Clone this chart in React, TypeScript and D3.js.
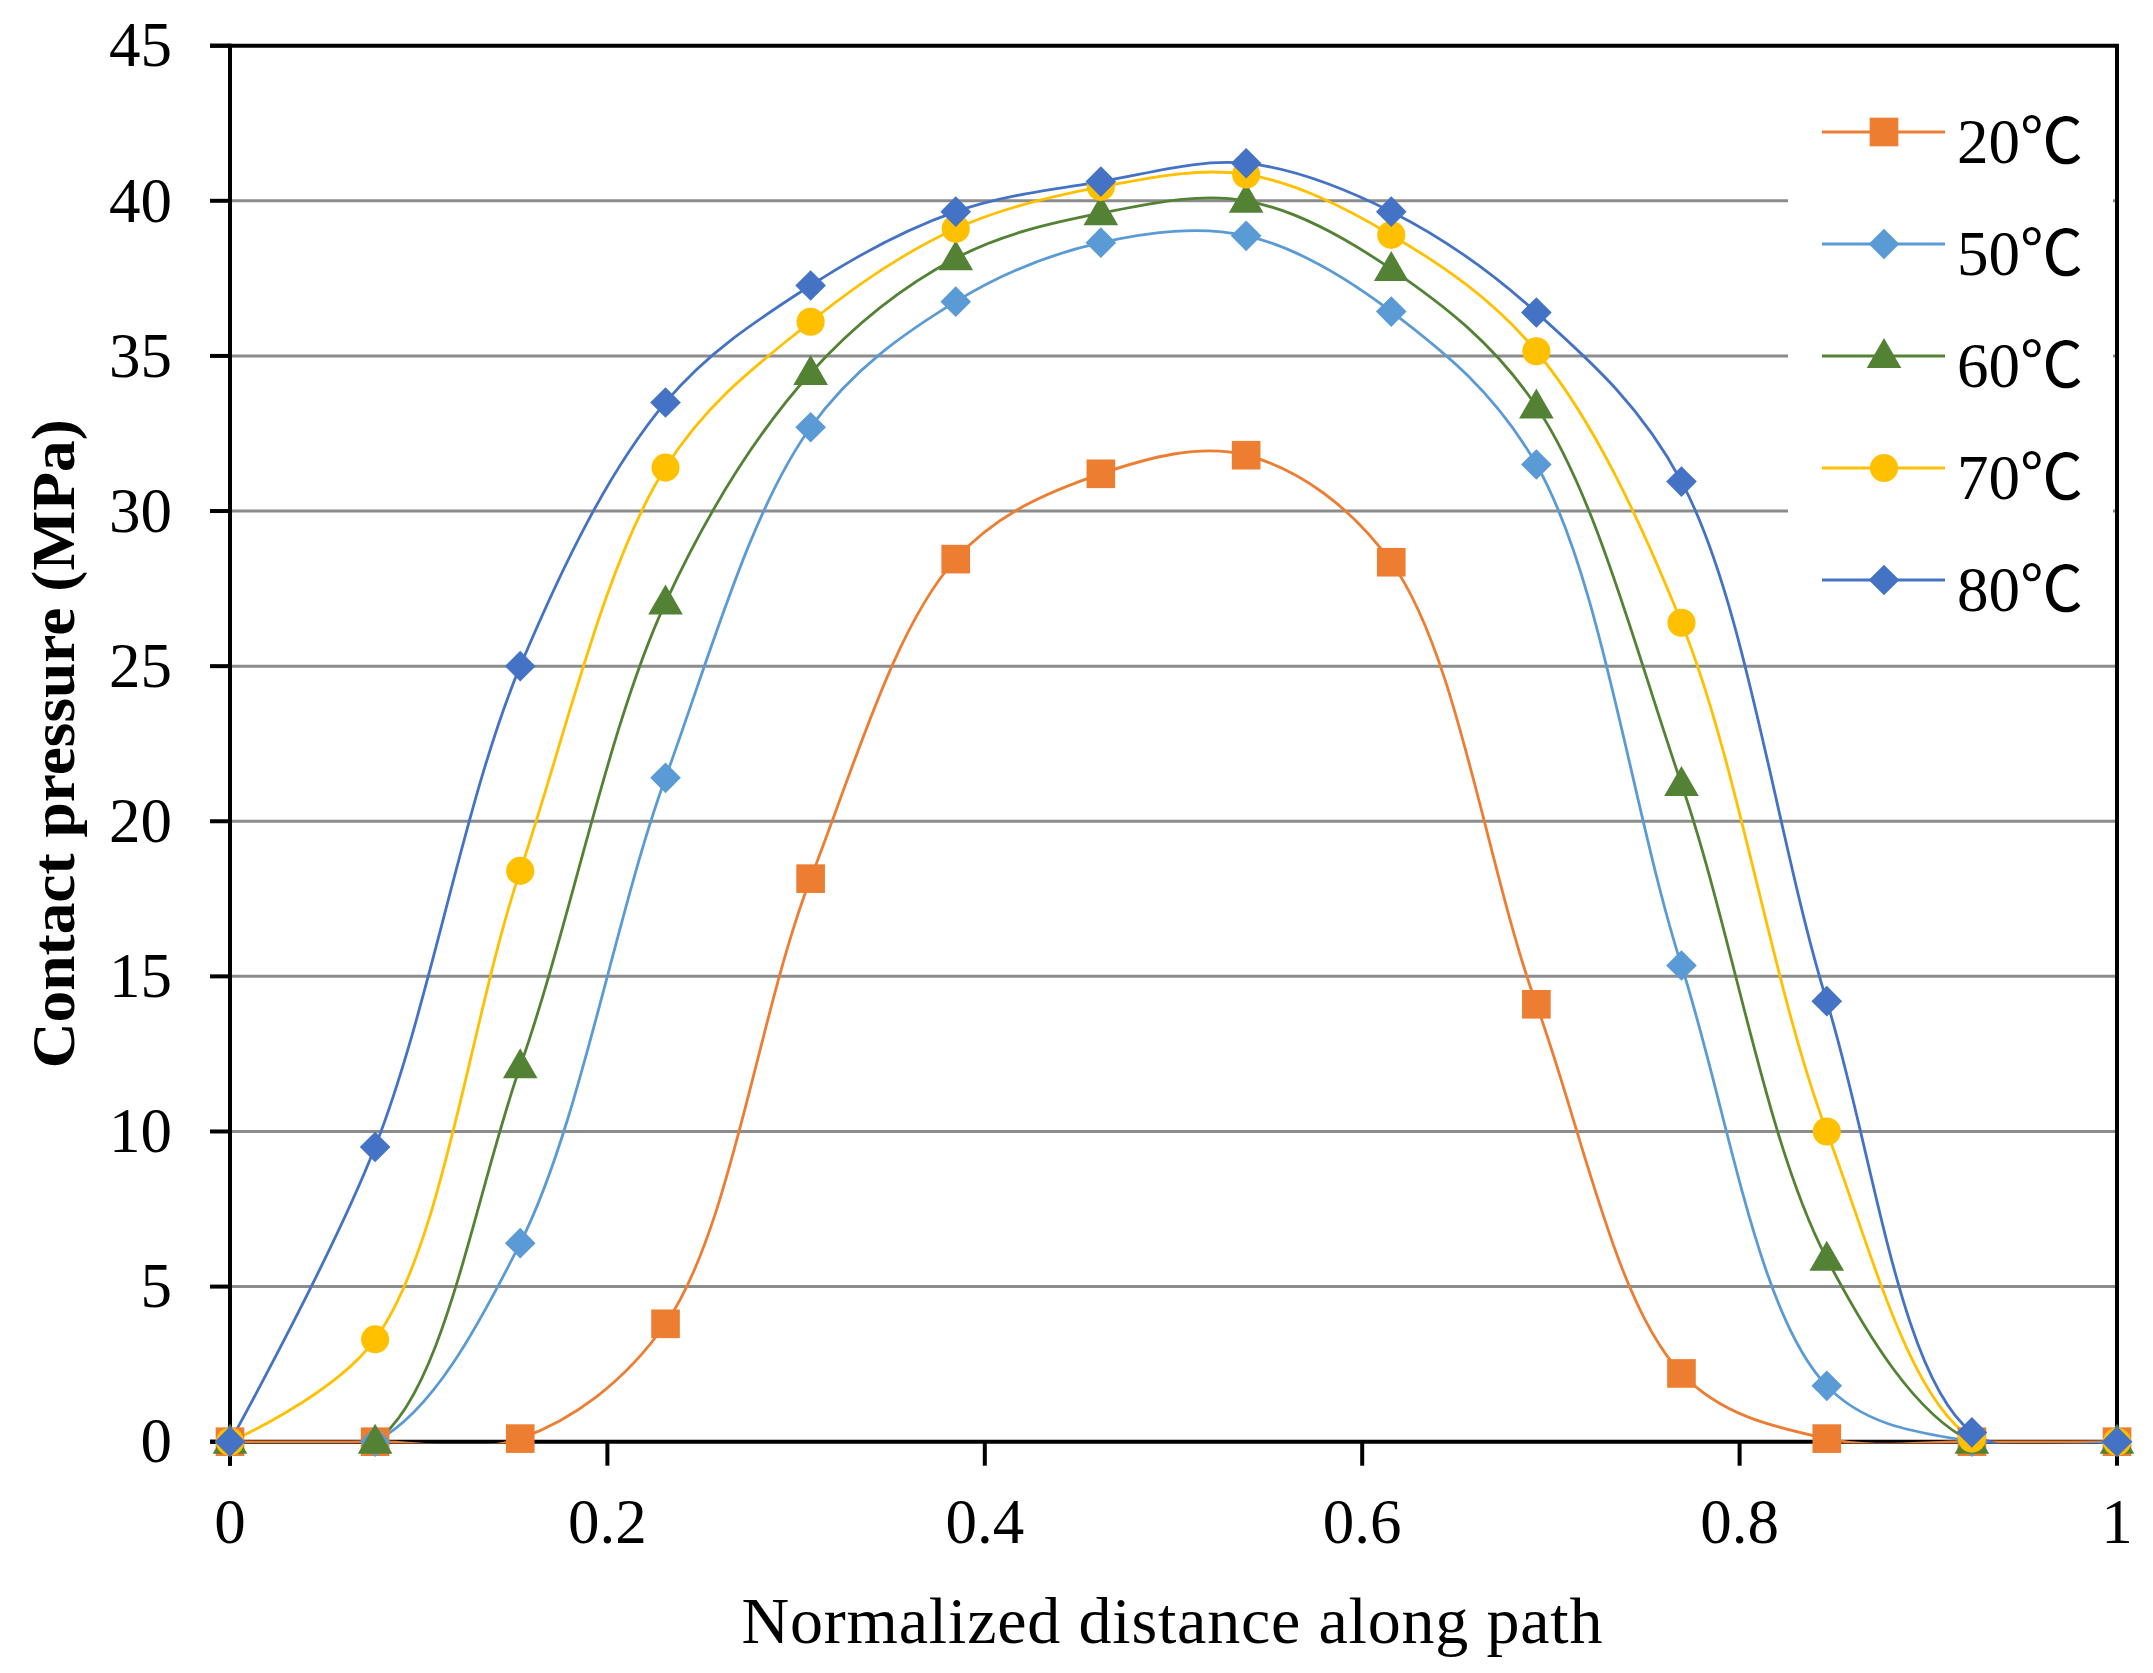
import React from 'react';
import * as d3 from 'd3';

const W = 2153;
const H = 1673;

// Data
const distances = [0, 0.0769, 0.1538, 0.2308, 0.3077, 0.3846, 0.4615, 0.5385, 0.6154, 0.6923, 0.7692, 0.8462, 0.9231, 1];
const seriesNames = ['20℃', '50℃', '60℃', '70℃', '80℃'];
const p20 = [0, 0, 0.1, 3.8, 18.15, 28.45, 31.2, 31.8, 28.35, 14.1, 2.2, 0.1, 0, 0];
const p50 = [0, 0, 6.4, 21.4, 32.7, 36.75, 38.65, 38.87, 36.43, 31.5, 15.35, 1.8, 0, 0];
const p60 = [0, 0, 12.1, 27.05, 34.45, 38.15, 39.6, 40.0, 37.8, 33.37, 21.2, 5.9, 0, 0];
const p70 = [0, 3.3, 18.4, 31.4, 36.1, 39.1, 40.45, 40.85, 38.9, 35.15, 26.4, 10.0, 0.1, 0];
const p80 = [0, 9.5, 25.0, 33.5, 37.27, 39.65, 40.62, 41.21, 39.65, 36.4, 30.95, 14.2, 0.3, 0];
const seriesValues = [p20, p50, p60, p70, p80];
const seriesColors = ['#ED7D31', '#5B9BD5', '#548235', '#FFC000', '#4472C4'];
const seriesMarkers = ['square', 'diamond', 'triangle', 'circle', 'diamond'];

const xTicks = [0, 0.2, 0.4, 0.6, 0.8, 1];
const xTickLabels = ['0', '0.2', '0.4', '0.6', '0.8', '1'];
const yTicks = [0, 5, 10, 15, 20, 25, 30, 35, 40, 45];
const yTickLabels = ['0', '5', '10', '15', '20', '25', '30', '35', '40', '45'];

const xTitle = 'Normalized distance along path';
const yTitle = 'Contact pressure (MPa)';

const serif = '"Liberation Serif", "Times New Roman", serif';
const legendFont = '"Liberation Serif", "Noto Sans CJK SC", serif';

const x = d3.scaleLinear().domain([0, 1]).range([230, 2117]);
const y = d3.scaleLinear().domain([0, 45]).range([1441.7, 45.7]);

function markerPath(kind: string): { d: string; rotate: number } {
  if (kind === 'square') return { d: d3.symbol(d3.symbolSquare, 820)() as string, rotate: 0 };
  if (kind === 'diamond') return { d: d3.symbol(d3.symbolSquare, 470)() as string, rotate: 45 };
  if (kind === 'triangle') return { d: d3.symbol(d3.symbolTriangle, 520)() as string, rotate: 0 };
  return { d: d3.symbol(d3.symbolCircle, 620)() as string, rotate: 0 };
}

const Marker: React.FC<{ kind: string; cx: number; cy: number; color: string }> = ({ kind, cx, cy, color }) => {
  const m = markerPath(kind);
  const dy = kind === 'triangle' ? 2 : 0;
  return (
    <path
      d={m.d}
      fill={color}
      stroke="none"
      transform={`translate(${cx},${cy + dy}) rotate(${m.rotate})`}
    />
  );
};

const line = d3
  .line<[number, number]>()
  .x((d) => x(d[0]))
  .y((d) => y(d[1]))
  .curve(d3.curveCatmullRom.alpha(0.5));

const legendRows = [132, 244, 356, 468, 580];

export default function App() {
  return (
    <div>
      <style>{`html,body{margin:0;padding:0;overflow:hidden;background:#fff}`}</style>
      <svg
        width={W}
        height={H}
        viewBox={`0 0 ${W} ${H}`}
        style={{ position: 'absolute', left: 0, top: 0, display: 'block', background: '#fff' }}
      >
        <defs>
          <clipPath id="plotClip">
            <rect x={x(0) - 20} y={y(45)} width={x(1) - x(0) + 40} height={y(0) - y(45) + 1.5} />
          </clipPath>
        </defs>

        {/* gridlines */}
        {yTicks
          .filter((t) => t > 0 && t < 45)
          .map((t) => (
            <line key={`g${t}`} x1={x(0)} x2={x(1)} y1={y(t)} y2={y(t)} stroke="#8c8c8c" strokeWidth={3} />
          ))}

        {/* frame: top and right */}
        <line x1={210} x2={x(1) + 2} y1={y(45)} y2={y(45)} stroke="#000" strokeWidth={4} />
        <line x1={x(1)} x2={x(1)} y1={y(45)} y2={y(0)} stroke="#000" strokeWidth={4} />

        {/* y axis */}
        <line x1={x(0)} x2={x(0)} y1={y(45) - 2} y2={y(0) + 24} stroke="#000" strokeWidth={4} />
        {yTicks.map((t) => (
          <line key={`yt${t}`} x1={210} x2={x(0)} y1={y(t)} y2={y(t)} stroke="#000" strokeWidth={4} />
        ))}
        {yTicks.map((t, i) => (
          <text
            key={`yl${t}`}
            x={172}
            y={y(t)}
            dy="0.33em"
            textAnchor="end"
            fontFamily={serif}
            fontSize={63}
            fill="#000"
          >
            {yTickLabels[i]}
          </text>
        ))}

        {/* x axis */}
        <line x1={210} x2={x(1) + 2} y1={y(0)} y2={y(0)} stroke="#000" strokeWidth={4} />
        {xTicks.map((t) => (
          <line key={`xt${t}`} x1={x(t)} x2={x(t)} y1={y(0)} y2={y(0) + 24} stroke="#000" strokeWidth={4} />
        ))}
        {xTicks.map((t, i) => (
          <text
            key={`xl${t}`}
            x={x(t)}
            y={1543}
            textAnchor="middle"
            fontFamily={serif}
            fontSize={63}
            fill="#000"
          >
            {xTickLabels[i]}
          </text>
        ))}

        {/* axis titles */}
        <text
          x={1172}
          y={1643}
          textAnchor="middle"
          fontFamily={serif}
          fontSize={66}
          textLength={861}
          lengthAdjust="spacing"
          fill="#000"
        >
          {xTitle}
        </text>
        <text
          transform={`translate(74,${(y(0) + y(45)) / 2}) rotate(-90)`}
          textAnchor="middle"
          fontFamily={serif}
          fontSize={62}
          fontWeight="bold"
          textLength={649}
          lengthAdjust="spacingAndGlyphs"
          fill="#000"
        >
          {yTitle}
        </text>

        {/* series lines */}
        <g clipPath="url(#plotClip)">
          {seriesValues.map((vals, si) => {
            const pts: [number, number][] = vals.map((v, i) => [distances[i], v]);
            return (
              <path
                key={`s${si}`}
                d={line(pts) as string}
                fill="none"
                stroke={seriesColors[si]}
                strokeWidth={2.8}
              />
            );
          })}
        </g>
        {/* markers */}
        {seriesValues.map((vals, si) => (
          <g key={`m${si}`}>
            {vals.map((v, i) => (
              <Marker
                key={i}
                kind={seriesMarkers[si]}
                cx={x(distances[i])}
                cy={y(v)}
                color={seriesColors[si]}
              />
            ))}
          </g>
        ))}

        {/* legend */}
        <rect x={1788} y={60} width={325} height={585} fill="#fff" />
        {seriesNames.map((name, si) => (
          <g key={`lg${si}`}>
            <line
              x1={1822}
              x2={1945}
              y1={legendRows[si]}
              y2={legendRows[si]}
              stroke={seriesColors[si]}
              strokeWidth={3}
            />
            <Marker kind={seriesMarkers[si]} cx={1884} cy={legendRows[si]} color={seriesColors[si]} />
            <text
              x={1957}
              y={legendRows[si] + 31}
              fontFamily={legendFont}
              fontSize={63}
              fill="#000"
            >
              {name}
            </text>
          </g>
        ))}
      </svg>
    </div>
  );
}
